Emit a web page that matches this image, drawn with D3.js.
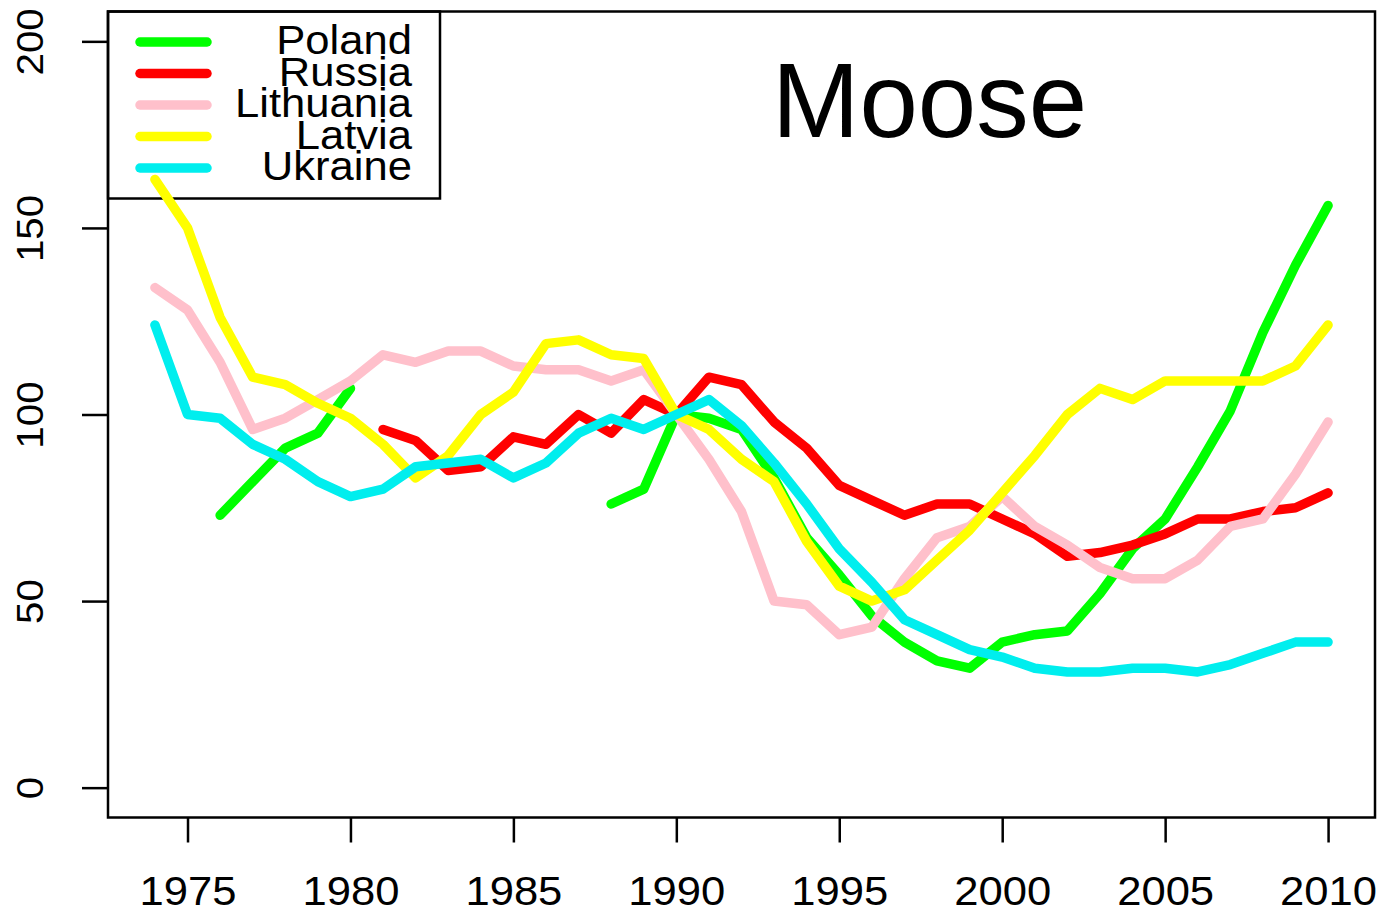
<!DOCTYPE html>
<html>
<head>
<meta charset="utf-8">
<script src="https://cdn.jsdelivr.net/npm/d3@7"></script>
<style>
  html, body { margin: 0; padding: 0; background: #fff; }
  svg { display: block; font-family: "Liberation Sans", Arial, sans-serif; }
</style>
</head>
<body>
<svg id="chart" width="1382" height="913"></svg>
<script>
const years = d3.range(1974, 2011);
const seriesNames = ["Poland", "Russia", "Lithuania", "Latvia", "Ukraine"];
const seriesColors = ["#00FF00", "#FF0000", "#FFC0CB", "#FFFF00", "#00EEEE"];
const xTicks = [1975, 1980, 1985, 1990, 1995, 2000, 2005, 2010];
const yTicks = [0, 50, 100, 150, 200];
const title = "Moose";

// values for 1974..2010 (null = missing)
const poland = [null, null, 73, 82, 91, 95, 107, null, null, null, null, null, null, null,
  76, 80, 100, 99, 96, 83, 67, 57, 46, 39, 34, 32, 39, 41, 42, 52, 64, 72, 86, 101, 122, 140, 156];
const russia = [null, null, null, null, null, null, null, 96, 93, 85, 86, 94, 92, 100,
  95, 104, 100, 110, 108, 98, 91, 81, 77, 73, 76, 76, 72, 68, 62, 63, 65, 68, 72, 72, 74, 75, 79];
const lithuania = [134, 128, 114, 96, 99, 104, 109, 116, 114, 117, 117, 113, 112, 112,
  109, 112, 100, 88, 74, 50, 49, 41, 43, 56, 67, 70, 78, 70, 65, 59, 56, 56, 61, 70, 72, 84, 98];
const latvia = [163, 150, 126, 110, 108, 103, 99, 92, 83, 89, 100, 106, 119, 120,
  116, 115, 100, 96, 88, 82, 66, 54, 50, 53, 61, 69, 79, 89, 100, 107, 104, 109, 109, 109, 109, 113, 124];
const ukraine = [124, 100, 99, 92, 88, 82, 78, 80, 86, 87, 88, 83, 87, 95,
  99, 96, 100, 104, 97, 87, 76, 64, 55, 45, 41, 37, 35, 32, 31, 31, 32, 32, 31, 33, 36, 39, 39];
const seriesValues = [poland, russia, lithuania, latvia, ukraine];

const svg = d3.select("#chart");
const plot = { left: 108, right: 1375, top: 11.5, bottom: 817.5 };
const stretch = 1.09;

// R-style 4% axis extension
const xr = [1974, 2010], xpad = (xr[1] - xr[0]) * 0.04;
const yr = [0, 200], ypad = (yr[1] - yr[0]) * 0.04;
const x = d3.scaleLinear().domain([xr[0] - xpad, xr[1] + xpad]).range([plot.left, plot.right]);
const y = d3.scaleLinear().domain([yr[0] - ypad, yr[1] + ypad]).range([plot.bottom, plot.top]);

// legend box (drawn first: lines show over it)
const leg = svg.append("g");
leg.append("rect")
  .attr("x", 108).attr("y", 11.5)
  .attr("width", 332).attr("height", 187)
  .attr("fill", "none").attr("stroke", "#000").attr("stroke-width", 2.5);

// lines
const line = d3.line()
  .defined(d => d.v !== null)
  .x(d => x(d.year))
  .y(d => y(d.v));

const g = svg.append("g");
seriesValues.forEach((vals, i) => {
  const data = years.map((yr, j) => ({ year: yr, v: vals[j] }));
  g.append("path")
    .datum(data)
    .attr("d", line)
    .attr("fill", "none")
    .attr("stroke", seriesColors[i])
    .attr("stroke-width", 9.5)
    .attr("stroke-linecap", "round")
    .attr("stroke-linejoin", "round");
});

// box
svg.append("rect")
  .attr("x", plot.left).attr("y", plot.top)
  .attr("width", plot.right - plot.left).attr("height", plot.bottom - plot.top)
  .attr("fill", "none").attr("stroke", "#000").attr("stroke-width", 2.5);

// x axis
const xAxis = d3.axisBottom(x).tickValues(xTicks).tickSize(25).tickFormat(d3.format("d")).tickSizeOuter(0);
const xg = svg.append("g").attr("transform", `translate(0,${plot.bottom})`).call(xAxis);
xg.select(".domain").remove();
xg.selectAll(".tick line").attr("stroke", "#000").attr("stroke-width", 2.5);
xg.selectAll(".tick text")
  .attr("y", 0).attr("dy", 0)
  .attr("transform", `translate(0,87) scale(${stretch},1)`)
  .attr("font-size", 40).attr("fill", "#000")
  .attr("font-family", "Liberation Sans, Arial, sans-serif");

// y axis
const yAxis = d3.axisLeft(y).tickValues(yTicks).tickSize(26).tickFormat(d3.format("d")).tickSizeOuter(0);
const yg = svg.append("g").attr("transform", `translate(${plot.left},0)`).call(yAxis);
yg.select(".domain").remove();
yg.selectAll(".tick line").attr("stroke", "#000").attr("stroke-width", 2.5);
yg.selectAll(".tick text")
  .attr("x", null).attr("dy", 0)
  .attr("text-anchor", "middle")
  .attr("transform", `translate(-65,0) rotate(-90) scale(${stretch},1)`)
  .attr("font-size", 37).attr("fill", "#000")
  .attr("font-family", "Liberation Sans, Arial, sans-serif");

// title
svg.append("text")
  .attr("x", 772).attr("y", 137)
  .attr("font-size", 105)
  .attr("fill", "#000")
  .text(title);

// legend entries
seriesNames.forEach((name, i) => {
  const ly = 42 + i * 31.5;
  leg.append("line")
    .attr("x1", 140).attr("x2", 207).attr("y1", ly).attr("y2", ly)
    .attr("stroke", seriesColors[i]).attr("stroke-width", 9.5)
    .attr("stroke-linecap", "round");
  leg.append("text")
    .attr("transform", `translate(412,${ly + 12}) scale(${stretch},1)`)
    .attr("text-anchor", "end")
    .attr("font-size", 40)
    .attr("fill", "#000")
    .text(name);
});
</script>
</body>
</html>
